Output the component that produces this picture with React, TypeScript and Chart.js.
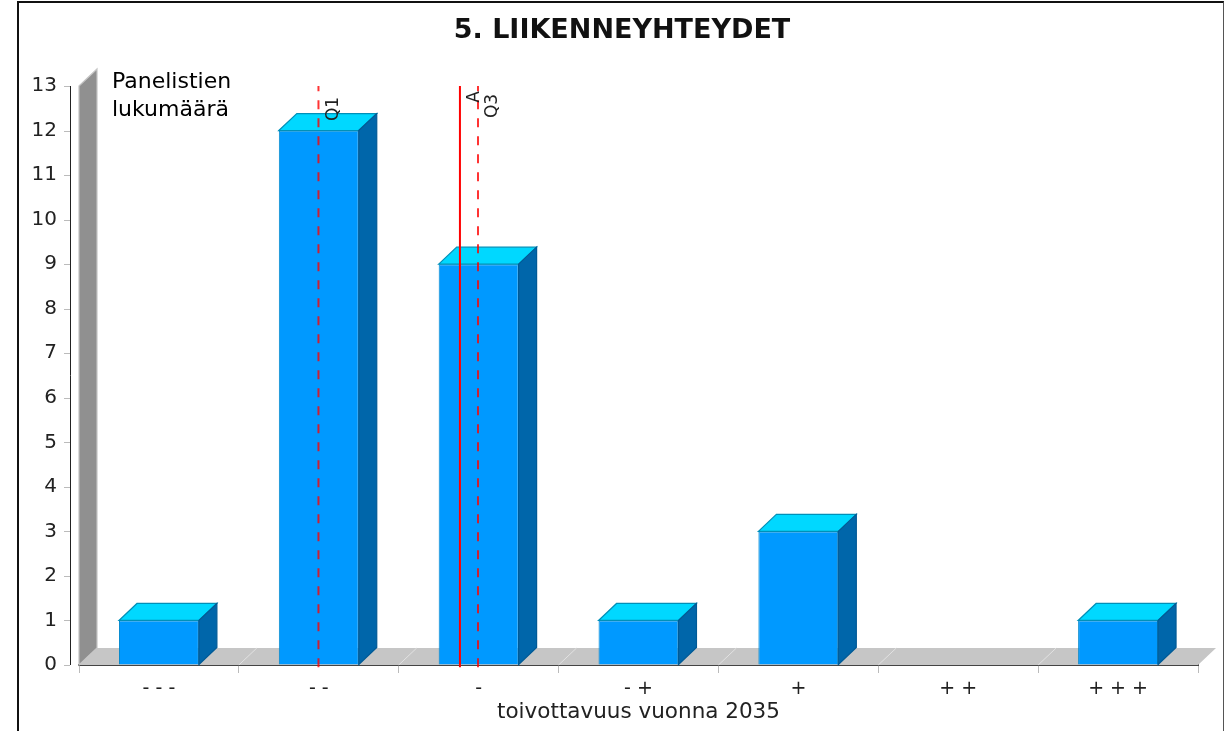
import React, { useEffect, useRef } from "react";
import { Chart, registerables } from "chart.js";

Chart.register(...registerables);

const categories = ["- - -", "- -", "-", "- +", "+", "+ +", "+ + +"];
const counts = [1, 12, 9, 1, 3, 0, 1];
const q1Position = 1.498;
const meanPosition = 2.383;
const q3Position = 2.496;
const titleText = "5. LIIKENNEYHTEYDET";
const xAxisTitle = "toivottavuus vuonna 2035";
const yAxisNote = ["Panelistien", "lukumäärä"];

const DX = 18;
const DY = 17;
const FONT = "'DejaVu Sans', Verdana, sans-serif";

const poly = (ctx: any, pts: number[][], fill: string, stroke?: string) => {
  ctx.beginPath();
  pts.forEach((p, i) => (i ? ctx.lineTo(p[0], p[1]) : ctx.moveTo(p[0], p[1])));
  ctx.closePath();
  ctx.fillStyle = fill;
  ctx.fill();
  if (stroke) {
    ctx.strokeStyle = stroke;
    ctx.lineWidth = 1.2;
    ctx.stroke();
  }
};

const scene = {
  id: "scene",
  beforeDatasetsDraw(chart: any) {
    const { ctx, chartArea: a, scales } = chart;
    ctx.save();
    poly(ctx, [[a.left, a.top], [a.left + DX, a.top - DY], [a.left + DX, a.bottom - DY], [a.left, a.bottom]], "#909090", "#c4c4c4");
    poly(ctx, [[a.left, a.bottom], [a.left + DX, a.bottom - DY], [a.right + DX, a.bottom - DY], [a.right, a.bottom]], "#c6c6c6");
    ctx.strokeStyle = "#e2e2e2";
    ctx.lineWidth = 1;
    categories.forEach((_, i) => {
      if (i === 0) return;
      const x = a.left + ((a.right - a.left) * i) / categories.length;
      ctx.beginPath();
      ctx.moveTo(x, a.bottom);
      ctx.lineTo(x + DX, a.bottom - DY);
      ctx.stroke();
    });
    // y axis rule and its tick marks, set off to the left of the wall
    const y = scales.y;
    const axisX = a.left - 9;
    ctx.strokeStyle = "#222";
    ctx.lineWidth = 1;
    ctx.beginPath();
    ctx.moveTo(axisX + 0.5, y.getPixelForValue(13));
    ctx.lineTo(axisX + 0.5, y.getPixelForValue(0));
    ctx.stroke();
    ctx.strokeStyle = "#bbb";
    y.ticks.forEach((t: any) => {
      const py = Math.round(y.getPixelForValue(t.value)) + 0.5;
      ctx.beginPath();
      ctx.moveTo(axisX - 6, py);
      ctx.lineTo(axisX, py);
      ctx.stroke();
    });
    ctx.restore();
  },
  afterDatasetDraw(chart: any, args: any) {
    if (args.index !== 0) return;
    const { ctx } = chart;
    ctx.save();
    chart.getDatasetMeta(0).data.forEach((bar: any, i: number) => {
      if (!counts[i]) return;
      const l = bar.x - bar.width / 2;
      const r = bar.x + bar.width / 2;
      const t = bar.y;
      const b = bar.base;
      poly(ctx, [[l, t], [l + DX, t - DY], [r + DX, t - DY], [r, t]], "#00d8ff", "#0090b8");
      poly(ctx, [[r, t], [r + DX, t - DY], [r + DX, b - DY], [r, b]], "#0066aa", "#005a96");
    });
    ctx.restore();
  },
  afterDatasetsDraw(chart: any) {
    const { ctx, chartArea: a, scales } = chart;
    ctx.save();
    ctx.fillStyle = "#000";
    ctx.font = `22px ${FONT}`;
    ctx.textAlign = "left";
    ctx.textBaseline = "middle";
    yAxisNote.forEach((s, i) => ctx.fillText(s, a.left + 33, a.top - 4 + i * 28));
    ctx.fillStyle = "#222";
    ctx.font = `17px ${FONT}`;
    const marks: [string, number, number][] = [
      ["Q1", q1Position, 106],
      ["A", meanPosition, 94],
      ["Q3", q3Position, 103],
    ];
    marks.forEach(([s, v, cy]) => {
      ctx.save();
      ctx.translate(scales.x2.getPixelForValue(v) + 15, cy);
      ctx.rotate(-Math.PI / 2);
      ctx.textAlign = "center";
      ctx.fillText(s, 0, 0);
      ctx.restore();
    });
    ctx.restore();
  },
};

const vLine = (label: string, x: number, dash: number[], width: number, color: string) => ({
  type: "line" as const,
  label,
  xAxisID: "x2",
  yAxisID: "y",
  data: [{ x, y: -0.05 }, { x, y: 13 }],
  borderColor: color,
  borderWidth: width,
  borderDash: dash,
  pointRadius: 0,
  clip: false,
  order: 1,
});

export default function App() {
  const ref = useRef<HTMLCanvasElement>(null);
  useEffect(() => {
    const chart = new Chart(ref.current!, {
      type: "bar",
      data: {
        labels: categories,
        datasets: [
          {
            label: "Panelistien lukumäärä",
            data: counts,
            backgroundColor: "#0099ff",
            borderColor: "#0088cc",
            borderWidth: 1,
            barPercentage: 0.5,
            categoryPercentage: 1,
            grouped: false,
            order: 2,
          } as any,
          vLine("Q1", q1Position, [9, 9], 2, "rgba(255,0,0,0.8)"),
          vLine("A", meanPosition, [], 2, "#ff0000"),
          vLine("Q3", q3Position, [9, 9], 2, "rgba(255,0,0,0.8)"),
        ],
      },
      plugins: [scene],
      options: {
        responsive: false,
        animation: false,
        layout: { padding: 0 },
        plugins: {
          legend: { display: false },
          tooltip: { enabled: false },
          title: {
            display: true,
            text: titleText,
            color: "#111",
            font: { family: FONT, size: 27, weight: "bold", lineHeight: 1.2 },
            padding: { top: 12, bottom: 38.6 },
          },
        },
        scales: {
          x: {
            type: "category",
            grid: { drawOnChartArea: false, color: "#bbb", tickLength: 8 },
            border: { color: "#444", width: 2 },
            ticks: { color: "#222", font: { family: FONT, size: 19 }, padding: 5, maxRotation: 0 },
            title: {
              display: true,
              text: xAxisTitle,
              color: "#222",
              font: { family: FONT, size: 21.5 },
              padding: { top: 2, bottom: 6 },
            },
            afterFit: (s: any) => { s.height = 66; },
          },
          x2: { type: "linear", display: false, min: 0, max: 7, offset: false },
          y: {
            min: 0,
            max: 13,
            ticks: { stepSize: 1, color: "#222", font: { family: FONT, size: 20 }, padding: 8 },
            grid: { display: true, drawOnChartArea: false, color: "rgba(0,0,0,0)", tickLength: 14 },
            border: { display: false },
            afterFit: (s: any) => { s.width = 60; },
          },
          spacer: {
            type: "linear",
            position: "right",
            display: true,
            ticks: { display: false },
            grid: { display: false },
            border: { display: false },
            afterFit: (s: any) => { s.width = 27; },
          },
        },
      } as any,
    });
    return () => chart.destroy();
  }, []);
  return (
    <div
      style={{
        position: "absolute",
        left: 17,
        top: 1,
        width: 1204,
        height: 730,
        borderLeft: "2px solid #111",
        borderTop: "2px solid #111",
        borderRight: "1px solid #555",
        overflow: "hidden",
        background: "#fff",
      }}
    >
      <canvas ref={ref} width={1206} height={728} style={{ display: "block" }} />
    </div>
  );
}
